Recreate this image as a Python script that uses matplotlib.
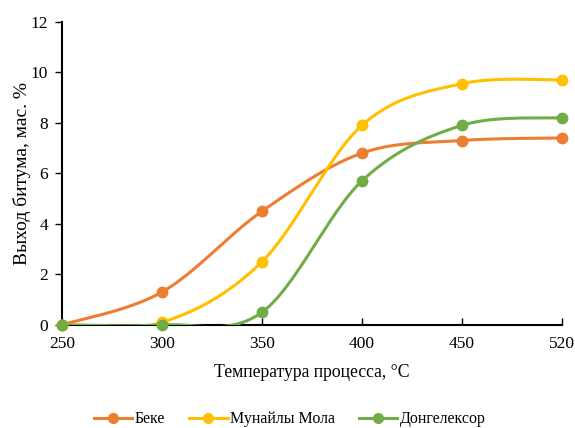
import numpy as np
import matplotlib.pyplot as plt

plt.rcParams['font.family'] = ['Liberation Serif', 'DejaVu Serif']

# данные
temps = ['250', '300', '350', '400', '450', '520']
beke = [0, 1.3, 4.5, 6.8, 7.3, 7.4]
munaily = [0, 0.1, 2.5, 7.9, 9.55, 9.7]
dongeleksor = [0, 0, 0.5, 5.7, 7.9, 8.2]


def smooth(x, y, n=30):
    # сглаживание как в Excel (кривые Безье)
    x = np.asarray(x, float)
    y = np.asarray(y, float)
    px = np.concatenate([[x[0]], x, [x[-1]]])
    py = np.concatenate([[y[0]], y, [y[-1]]])
    xs, ys = [], []
    t = np.linspace(0, 1, n)
    for i in range(1, len(px) - 2):
        p0 = np.array([px[i], py[i]])
        p3 = np.array([px[i + 1], py[i + 1]])
        c1 = p0 + (np.array([px[i + 1], py[i + 1]]) - np.array([px[i - 1], py[i - 1]])) / 6
        c2 = p3 - (np.array([px[i + 2], py[i + 2]]) - np.array([px[i], py[i]])) / 6
        b = ((1 - t) ** 3)[:, None] * p0 + (3 * (1 - t) ** 2 * t)[:, None] * c1 \
            + (3 * (1 - t) * t ** 2)[:, None] * c2 + (t ** 3)[:, None] * p3
        xs.extend(b[:, 0])
        ys.extend(b[:, 1])
    return xs, ys


fig = plt.figure(figsize=(5.75, 4.28), dpi=100)
ax = fig.add_axes([0.108, 0.241, 0.869, 0.708])

xpos = np.arange(len(temps))
series = [(beke, '#ED7D31', 'Беке'),
          (munaily, '#FFC000', 'Мунайлы Мола'),
          (dongeleksor, '#70AD47', 'Донгелексор')]
for vals, color, name in series:
    sx, sy = smooth(xpos, vals)
    ax.plot(sx, sy, color=color, lw=2.2, zorder=3)
    ax.plot(xpos, vals, 'o', color=color, ms=7.5, zorder=4, clip_on=False)
    ax.plot([], [], '-o', color=color, lw=2.2, ms=7, label=name)

ax.set_xlim(0, len(temps) - 1)
ax.set_ylim(0, 12)
ax.set_xticks(xpos)
ax.set_xticklabels(temps)
ax.set_yticks(range(0, 13, 2))
ax.tick_params(axis='x', direction='in', length=5, width=1, labelsize=12.5, pad=8)
ax.tick_params(axis='y', direction='out', length=5, width=1, labelsize=12.5, pad=5)
for s in ['top', 'right']:
    ax.spines[s].set_visible(False)
for s in ['left', 'bottom']:
    ax.spines[s].set_linewidth(1.5)
ax.set_xlabel('Температура процесса, °C', fontsize=12.7, labelpad=9)
ax.set_ylabel('Выход битума, мас. %', fontsize=14, labelpad=0)

fig.legend(loc='center', bbox_to_anchor=(0.504, 0.02), ncol=3, frameon=False,
           fontsize=11.5, handlelength=2.4, columnspacing=1.5, handletextpad=0.15)

fig.savefig('out.png', dpi=100)
